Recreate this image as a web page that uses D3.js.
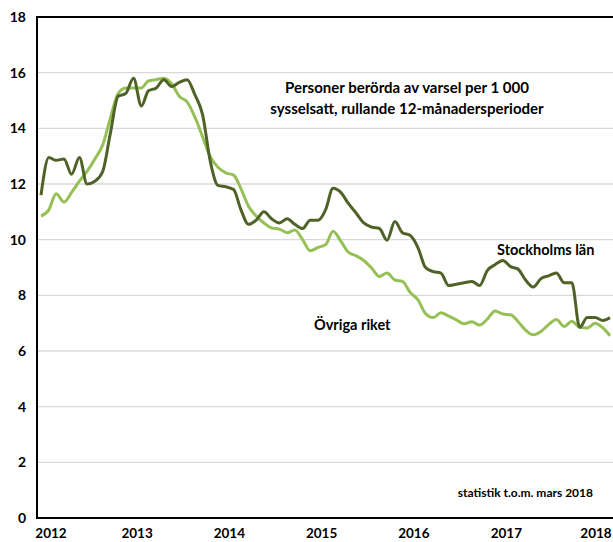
<!DOCTYPE html>
<meta charset="utf-8">
<script src="https://d3js.org/d3.v7.min.js"></script>
<style>
body{
  margin:0;
  background:#fff;
}
svg text{
  font-family:Lato, "Open Sans", sans-serif;
  font-weight:700;
  fill:#000;
}
</style>
<div id="chart"></div>
<script>
// monthly values, jan 2012 - mar 2018
let startMonth = new Date(2012, 0, 1);
let stockholm = [
  11.6, 12.95, 12.85, 12.9, 12.35, 12.95, 12.0, 12.1, 12.45, 13.8, 15.15, 15.25,
  15.8, 14.8, 15.35, 15.45, 15.75, 15.5, 15.65, 15.75, 15.2, 14.5, 12.8, 11.95,
  11.9, 11.8, 11.1, 10.55, 10.7, 11.0, 10.75, 10.6, 10.75, 10.55, 10.4, 10.7,
  10.7, 11.1, 11.85, 11.7, 11.3, 10.95, 10.6, 10.45, 10.4, 9.98, 10.65, 10.25,
  10.15, 9.7, 9.0, 8.85, 8.8, 8.35, 8.4, 8.45, 8.5, 8.35, 8.9, 9.1,
  9.25, 9.03, 8.95, 8.55, 8.3, 8.6, 8.7, 8.8, 8.45, 8.45, 6.85, 7.2,
  7.2, 7.1, 7.2
];
let ovriga = [
  10.85, 11.07, 11.65, 11.35, 11.7, 12.1, 12.45, 12.9, 13.4, 14.35, 15.25, 15.45,
  15.45, 15.45, 15.7, 15.75, 15.8, 15.6, 15.15, 14.95, 14.4, 13.7, 12.97, 12.6,
  12.4, 12.32, 11.85, 11.2, 10.85, 10.6, 10.42, 10.38, 10.25, 10.35, 10.0, 9.6,
  9.72, 9.83, 10.3, 9.95, 9.55, 9.42, 9.25, 8.98, 8.68, 8.8, 8.55, 8.5,
  8.1, 7.83, 7.35, 7.2, 7.37, 7.25, 7.12, 6.98, 7.05, 6.93, 7.15, 7.44,
  7.33, 7.3, 7.07, 6.75, 6.58, 6.7, 6.95, 7.13, 6.88, 7.07, 6.85, 6.83,
  7.0, 6.83, 6.55
];
let yTicks = [0, 2, 4, 6, 8, 10, 12, 14, 16, 18];
let years = [2012, 2013, 2014, 2015, 2016, 2017, 2018];
let title = ["Personer berörda av varsel per 1 000", "sysselsatt, rullande 12-månadersperioder"];

let width = 613, height = 542;
let plot = {left: 37, right: 613, top: 17, bottom: 518};

let svg = d3.select("#chart")
  .append("svg")
    .attr("width", width)
    .attr("height", height);

let toSeries = function(arr){
  return arr.map(function(v, i){ return {date: d3.timeMonth.offset(startMonth, i), value: v}; });
};
let dataSthlm = toSeries(stockholm);
let dataOvr = toSeries(ovriga);

let x = d3.scaleTime()
  .domain([startMonth, d3.timeMonth.offset(startMonth, stockholm.length - 1)])
  .range([41, 610]);

let y = d3.scaleLinear()
  .domain([0, 18])
  .range([plot.bottom, plot.top]);

// gridlines
svg.append("g")
  .selectAll("line")
  .data(yTicks.filter(function(d){ return d > 0 && d < 18; }))
  .enter().append("line")
    .attr("x1", plot.left)
    .attr("x2", plot.right)
    .attr("y1", function(d){ return y(d); })
    .attr("y2", function(d){ return y(d); })
    .attr("stroke", "#d9d9d9")
    .attr("stroke-width", 1.3);

// y labels
svg.append("g")
  .selectAll("text")
  .data(yTicks)
  .enter().append("text")
    .attr("x", 26)
    .attr("y", function(d){ return y(d); })
    .attr("dy", "0.35em")
    .attr("text-anchor", "end")
    .attr("font-size", 14)
    .text(function(d){ return d; });

// year labels
svg.append("g")
  .selectAll("text")
  .data(years)
  .enter().append("text")
    .attr("x", function(d){
      let px = x(new Date(d, 0, 15));
      return Math.min(596, Math.max(51, px));
    })
    .attr("y", 533)
    .attr("dy", "0.35em")
    .attr("text-anchor", "middle")
    .attr("font-size", 13.5)
    .text(function(d){ return d; });

let line = d3.line()
  .curve(d3.curveMonotoneX)
  .x(function(d){ return x(d.date); })
  .y(function(d){ return y(d.value); });

svg.append("path")
  .datum(dataOvr)
  .attr("fill", "none")
  .attr("stroke", "#95c055")
  .attr("stroke-width", 3)
  .attr("stroke-linejoin", "round")
  .attr("d", line);

svg.append("path")
  .datum(dataSthlm)
  .attr("fill", "none")
  .attr("stroke", "#4f6228")
  .attr("stroke-width", 3)
  .attr("stroke-linejoin", "round")
  .attr("d", line);

// frame: top, left, bottom
svg.append("path")
  .attr("d", "M" + (plot.right + 2) + "," + plot.top + "H" + plot.left + "V" + plot.bottom + "H" + (plot.right + 2))
  .attr("fill", "none")
  .attr("stroke", "#000")
  .attr("stroke-width", 2);

// texts
svg.append("text")
  .attr("x", 407)
  .attr("text-anchor", "middle")
  .attr("font-size", 15)
  .selectAll("tspan")
  .data(title)
  .enter().append("tspan")
    .attr("x", 407)
    .attr("y", function(d, i){ return 93 + i * 21; })
    .text(function(d){ return d; });

svg.append("text")
  .attr("x", 497)
  .attr("y", 255)
  .attr("font-size", 14.5)
  .text("Stockholms län");

svg.append("text")
  .attr("x", 314)
  .attr("y", 330)
  .attr("font-size", 14.5)
  .text("Övriga riket");

svg.append("text")
  .attr("x", 593)
  .attr("y", 497)
  .attr("text-anchor", "end")
  .attr("font-size", 12)
  .text("statistik t.o.m. mars 2018");
</script>
